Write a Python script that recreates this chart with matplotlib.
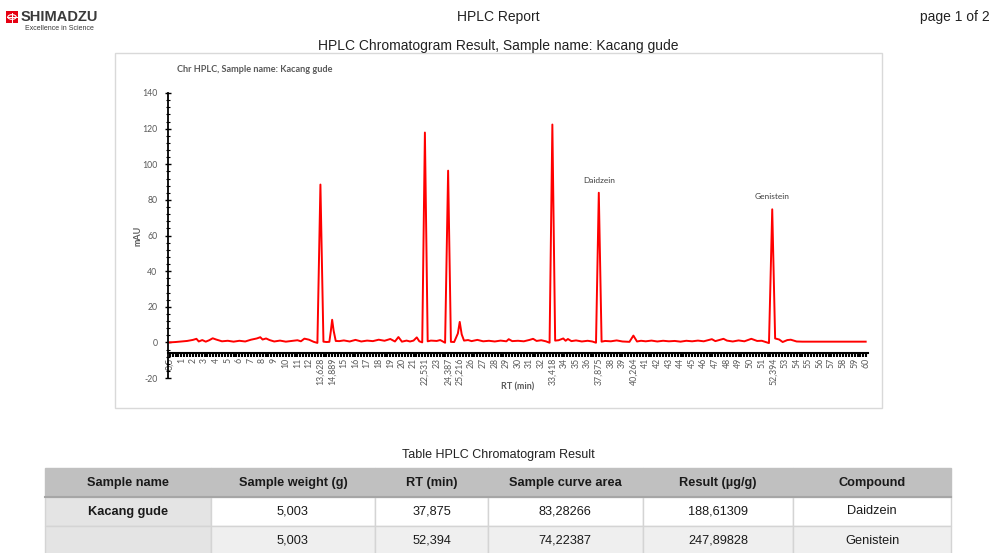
import matplotlib
matplotlib.use("Agg")
import matplotlib.pyplot as plt
from matplotlib.patches import Rectangle, Circle
from matplotlib.ticker import MultipleLocator

plt.rcParams['axes.unicode_minus'] = False

# chromatogram trace, x = position on the (category like) RT axis
rt = [0.0, 0.5, 1.0, 1.5, 2.0, 2.3, 2.5, 2.8, 3.1, 3.4,
      3.7, 4.0, 4.5, 5.0, 5.5, 6.0, 6.5, 7.0, 7.5, 7.8,
      8.0, 8.3, 8.6, 9.0, 9.5, 10.0, 10.5, 11.0, 11.3, 11.6,
      12.0, 12.4, 12.72, 12.98, 13.24, 13.5, 13.75, 13.87, 13.99, 14.12,
      14.3, 14.6, 15.0, 15.5, 16.0, 16.5, 17.0, 17.5, 18.0, 18.5,
      19.0, 19.4, 19.7, 20.0, 20.4, 20.7, 21.0, 21.28, 21.5, 21.75,
      21.98, 22.22, 22.5, 23.0, 23.3, 23.72, 23.98, 24.22, 24.5, 24.82,
      24.98, 25.15, 25.35, 25.7, 26.0, 26.5, 27.0, 27.5, 28.0, 28.5,
      29.0, 29.2, 29.5, 30.0, 30.5, 31.0, 31.3, 31.6, 32.0, 32.4,
      32.72, 32.96, 33.2, 33.5, 33.9, 34.1, 34.3, 34.6, 35.0, 35.5,
      36.0, 36.4, 36.72, 36.96, 37.2, 37.5, 38.0, 38.5, 39.0, 39.6,
      39.94, 40.25, 40.6, 41.0, 41.5, 42.0, 42.5, 43.0, 43.5, 44.0,
      44.5, 45.0, 45.5, 46.0, 46.7, 47.0, 47.7, 48.0, 48.5, 49.0,
      49.5, 50.1, 50.6, 51.0, 51.62, 51.9, 52.15, 52.5, 52.8, 53.2,
      53.5, 54.0, 54.5, 55.0, 56.0, 57.0, 58.0, 59.0, 59.95]
mau = [0.0, 0.2, 0.5, 0.8, 1.4, 2.0, 0.5, 1.3, 0.4, 1.2,
       2.3, 1.6, 0.6, 0.9, 0.4, 0.9, 0.5, 1.5, 2.2, 2.9,
       1.6, 2.2, 1.3, 0.5, 1.0, 0.4, 0.8, 1.2, 0.6, 2.1,
       1.5, 0.3, -0.3, 88.6, 0.4, 0.2, 0.3, 6.0, 12.7, 6.5,
       0.8, 0.7, 1.1, 0.5, 1.4, 0.5, 1.0, 0.7, 1.5, 0.9,
       1.9, 0.5, 3.0, 0.4, 1.0, 0.5, 1.0, 2.8, 0.6, 0.0,
       117.8, 0.6, 1.0, 0.8, 1.3, -0.2, 96.4, 0.3, 0.2, 5.0,
       11.5, 4.5, 1.0, 1.3, 0.7, 1.4, 0.6, 0.9, 0.5, 1.0,
       0.6, 1.8, 0.7, 0.9, 0.6, 1.4, 2.0, 0.8, 1.2, 0.6,
       -0.2, 122.3, 1.0, 1.2, 2.2, 0.9, 1.9, 0.7, 1.1, 0.5,
       0.9, 0.5, -0.2, 84.0, 0.4, 0.8, 0.6, 1.1, 0.5, 0.3,
       3.8, 0.5, 0.9, 0.6, 1.0, 0.5, 0.9, 0.6, 0.8, 0.4,
       0.9, 0.6, 1.0, 0.6, 1.8, 0.7, 2.0, 1.0, 0.5, 1.1,
       0.6, 2.0, 0.8, 0.9, -0.4, 74.7, 2.2, 1.6, 0.2, 1.3,
       1.5, 0.5, 0.4, 0.4, 0.4, 0.4, 0.4, 0.4, 0.4]

# axis labels: one per minute, peak retention times replace the integer
peak_labels = {13: '13,628', 14: '14,889', 22: '22,531', 24: '24,387', 25: '25,216',
               33: '33,418', 37: '37,875', 40: '40,264', 52: '52,394'}
tick_labels = ['0,5'] + [peak_labels.get(i, str(i)) for i in range(1, 61)]

compounds = ['Daidzein', 'Genistein']
compound_pos = [36.96, 51.9]
compound_lab_y = [91, 82]

# result table
col_names = ['Sample name', 'Sample weight (g)', 'RT (min)', 'Sample curve area', 'Result (µg/g)', 'Compound']
table_rows = [['Kacang gude', '5,003', '37,875', '83,28266', '188,61309', 'Daidzein'],
              ['', '5,003', '52,394', '74,22387', '247,89828', 'Genistein']]
col_widths = [166, 165, 113, 155, 151, 158]

W, H = 995, 553
fig = plt.figure(figsize=(W / 100, H / 100), dpi=100)

def fx(px):
    return px / W

def fy(py):
    return 1 - py / H

hdr_font = 'Liberation Sans'
chart_font = 'Lato'
tbl_font = 'Liberation Sans'
grey = '#595959'

# page header
fig.add_artist(Rectangle((fx(6), fy(23)), fx(12), 12 / H, color='#e60012', lw=0))
fig.add_artist(Circle((fx(12), fy(17)), 4.2 / W, fill=False, ec='white', lw=0.8,
                      transform=fig.transFigure))
fig.add_artist(plt.Line2D([fx(7.5), fx(16.5)], [fy(17), fy(17)], color='white', lw=0.7))
fig.add_artist(plt.Line2D([fx(12), fx(12)], [fy(12.5), fy(21.5)], color='white', lw=0.7))
fig.text(fx(21), fy(17), 'SHIMADZU', fontsize=10.5, fontweight='bold', color='#3a3a3a',
         family=hdr_font, va='center', ha='left')
fig.text(fx(59), fy(28), 'Excellence in Science', fontsize=5, color='#3a3a3a',
         family=hdr_font, va='center', ha='center')
fig.text(fx(498), fy(17), 'HPLC Report', fontsize=10, color='#222222', family=hdr_font,
         va='center', ha='center')
fig.text(fx(990), fy(17), 'page 1 of 2', fontsize=10, color='#222222', family=hdr_font,
         va='center', ha='right')
fig.text(fx(498), fy(46), 'HPLC Chromatogram Result, Sample name: Kacang gude', fontsize=10,
         color='#222222', family=hdr_font, va='center', ha='center')

# chart frame
fig.add_artist(Rectangle((fx(115), fy(408)), fx(882 - 115), (408 - 53) / H,
                         fill=False, ec='#d9d9d9', lw=1))
fig.text(fx(177), fy(70), 'Chr HPLC, Sample name: Kacang gude', fontsize=6.6,
         fontweight='bold', color=grey, family=chart_font, va='center', ha='left')

ax = fig.add_axes([fx(168), fy(378), fx(868 - 168), (378 - 93) / H])
ax.plot(rt, mau, color='#ff0000', lw=1.4)
ax.set_xlim(-0.15, 60.15)
ax.set_ylim(-20, 140)
ax.spines['top'].set_visible(False)
ax.spines['right'].set_visible(False)
ax.spines['bottom'].set_position(('data', -6))
ax.spines['bottom'].set_linewidth(1.5)
ax.spines['left'].set_linewidth(1.3)

ax.set_xticks(range(61))
ax.set_xticklabels(tick_labels, rotation=90, fontsize=6.3, color=grey, family=chart_font)
ax.xaxis.set_minor_locator(MultipleLocator(0.25))
ax.tick_params(axis='x', which='both', direction='out', length=3, width=1.5, pad=0.5)

ax.set_yticks(range(-20, 141, 20))
ax.yaxis.set_minor_locator(MultipleLocator(4))
ax.tick_params(axis='y', which='major', direction='inout', length=5, width=1, labelsize=6.3,
               labelcolor=grey, pad=5)
ax.tick_params(axis='y', which='minor', direction='inout', length=3, width=0.8)
for lab in ax.get_yticklabels():
    lab.set_family(chart_font)

for name, xpos, ypos in zip(compounds, compound_pos, compound_lab_y):
    ax.text(xpos, ypos, name, fontsize=6, color='#404040', ha='center', va='center',
            family=chart_font)

fig.text(fx(138), fy(236), 'mAU', fontsize=6.5, fontweight='bold', color=grey,
         rotation=90, va='center', ha='center', family=chart_font)
fig.text(fx(518), fy(387), 'RT (min)', fontsize=6.5, fontweight='bold', color=grey,
         va='center', ha='center', family=chart_font)

# table
fig.text(fx(498), fy(455), 'Table HPLC Chromatogram Result', fontsize=9, color='#222222',
         family=tbl_font, va='center', ha='center')

tax = fig.add_axes([fx(45), fy(555), fx(951 - 45), (555 - 468) / H])
tax.axis('off')
tot = sum(col_widths)
tbl = tax.table(cellText=table_rows, colLabels=col_names, cellLoc='center',
                colWidths=[w / tot for w in col_widths], bbox=[0, 0, 1, 1])
tbl.auto_set_font_size(False)
for (r, c), cell in tbl.get_celld().items():
    cell.set_linewidth(1)
    txt = cell.get_text()
    txt.set_fontsize(9.2)
    txt.set_family(tbl_font)
    txt.set_color('#1a1a1a')
    if r == 0:
        cell.set_facecolor('#c0c0c0')
        cell.set_edgecolor('#c0c0c0')
        txt.set_fontweight('bold')
    else:
        cell.set_edgecolor('#d4d4d4')
        if c == 0:
            cell.set_facecolor('#e4e4e4')
            txt.set_fontweight('bold')
        elif r == 2:
            cell.set_facecolor('#efefef')
        else:
            cell.set_facecolor('white')
# darker rule under the header
fig.add_artist(plt.Line2D([fx(45), fx(951)], [fy(497), fy(497)], color='#a6a6a6', lw=1.5))

fig.savefig('out.png', dpi=100)
